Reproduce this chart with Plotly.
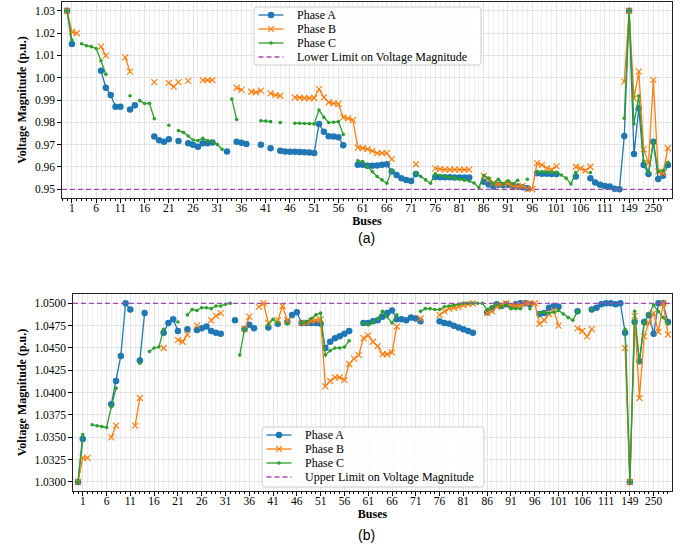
import plotly.graph_objects as go

# ---------------- data ----------------
buses = ["150"] + [str(b) for b in range(1, 115)] + ["135", "149", "151", "152", "160", "197", "250", "300", "450", "451"]
N = len(buses)
x_idx = list(range(N))
tick_pos = list(range(1, N, 5))
tick_txt = [buses[i] for i in tick_pos]

_ = None
# (a) minimum voltages
a_phase_a = [
    1.03, 1.0151, _, _, _, _, _, 1.0031, 0.9955, 0.9922,
    0.987, 0.987, _, 0.9858, 0.9876, _, _, _, 0.9736, 0.972,
    0.9713, 0.9724, _, 0.9716, _, 0.9706, 0.970, 0.9691, 0.9706, 0.9706,
    0.971, _, _, 0.9669, _, 0.9713, 0.9708, 0.9703, _, _,
    0.9699, _, 0.9684, _, 0.9673, 0.9669, 0.9668, 0.9668, 0.9667, 0.9666,
    0.9665, 0.9663, 0.9792, 0.9758, 0.9738, 0.9736, 0.9733, 0.9697, _, _,
    0.961, 0.961, 0.9605, 0.9605, 0.9607, 0.961, 0.9612, 0.958, 0.9564, 0.955,
    0.9542, 0.9537, 0.9568, _, _, _, 0.9555, 0.9554, 0.9554, 0.9554,
    0.9553, 0.9553, 0.9553, 0.9553, _, _, 0.9534, 0.9522, 0.9512, 0.952,
    0.9518, 0.952, 0.9515, 0.9512, 0.9509, 0.9505, _, 0.9572, 0.957, 0.957,
    0.9568, 0.9568, _, _, _, 0.9557, _, _, 0.955, 0.953,
    0.952, 0.9515, 0.9512, 0.9502, 0.950, 0.9739, 1.03, 0.9658, 0.9863, 0.9609,
    0.9569, 0.9713, 0.9546, 0.9561, 0.9609]
a_phase_b = [
    1.03, 1.0205, 1.0199, _, _, _, _, 1.0139, 1.0099, _,
    _, _, 1.0091, 1.0027, _, _, _, _, 0.998, _,
    _, 0.9977, 0.996, 0.998, _, 0.9986, _, _, 0.9989, 0.9989,
    0.9989, _, _, _, _, 0.9955, 0.9945, _, 0.9937, 0.9934,
    0.9942, _, 0.993, 0.9922, 0.9919, _, _, 0.9912, 0.991, 0.9908,
    0.9908, 0.9909, 0.9949, 0.9912, 0.989, 0.9885, 0.9882, 0.9822, 0.9818, 0.981,
    0.9687, 0.9684, 0.968, 0.9672, 0.9662, 0.9662, 0.9662, 0.9635, _, _,
    _, _, 0.9612, _, _, _, 0.9594, 0.959, 0.9588, 0.9588,
    0.9588, 0.9588, 0.9588, 0.9588, _, _, 0.956, 0.9542, 0.9528, 0.9522,
    0.9524, 0.9527, 0.9515, 0.9512, 0.9515, 0.9502, 0.950, 0.9617, 0.9608, 0.9595,
    0.9588, 0.9603, _, _, _, 0.9601, 0.9594, 0.9584, 0.9601, _,
    _, _, _, _, _, 0.9982, 1.03, 0.9907, 1.0027, 0.9679,
    0.9616, 0.999, 0.9579, 0.9572, 0.9684]
a_phase_c = [
    1.03, 1.0169, _, 1.0152, 1.0143, 1.0139, 1.0131, 1.0076, 1.0015, _,
    _, _, _, 0.9919, _, 0.9897, 0.9884, 0.9885, 0.9816, _,
    _, 0.9787, _, 0.9763, 0.9755, 0.9739, 0.9721, 0.9718, 0.9728, 0.9718,
    0.9713, 0.9701, 0.9679, _, 0.9904, 0.9813, _, _, _, _,
    0.9807, 0.9806, 0.9803, _, 0.9799, _, _, 0.9796, 0.9796, 0.9795,
    0.9794, 0.9793, 0.9855, 0.9822, 0.9799, 0.980, 0.9803, 0.9746, _, _,
    0.9628, 0.9624, 0.9601, 0.9579, 0.9557, 0.9542, 0.9527, 0.9584, _, _,
    _, _, 0.9573, 0.9557, 0.9542, 0.9527, 0.9569, 0.9562, 0.9558, 0.9555,
    0.955, 0.9546, 0.9541, 0.9537, 0.9528, 0.9508, 0.9562, 0.955, 0.9525, 0.9545,
    0.9525, 0.9538, 0.9525, 0.954, _, 0.9545, _, 0.9579, 0.9578, 0.9577,
    0.9577, 0.9576, 0.9564, 0.955, 0.9524, 0.9576, _, _, 0.9575, _,
    _, _, _, _, _, 0.9818, 1.03, 0.9793, 0.9918, 0.9627,
    0.9576, 0.9713, 0.9579, 0.9584, 0.9621]

# (b) maximum voltages
b_phase_a = [
    1.03, 1.0348, _, _, _, _, _, 1.0387, 1.0413, 1.0441,
    1.05, 1.0493, _, 1.0436, 1.0489, _, _, _, 1.0467, 1.0478,
    1.0482, 1.0469, _, 1.0471, _, 1.047, 1.0472, 1.0474, 1.0469, 1.0467,
    1.0466, _, _, 1.0481, _, 1.0471, 1.0476, 1.0472, _, _,
    1.0473, _, 1.0477, _, 1.0479, 1.0487, 1.049, 1.0478, 1.0478, 1.0478,
    1.0478, 1.0477, 1.045, 1.0457, 1.0461, 1.0463, 1.0466, 1.0469, _, _,
    1.0478, 1.0478, 1.048, 1.0481, 1.0485, 1.0489, 1.0492, 1.0482, 1.0482, 1.0481,
    1.0484, 1.0483, 1.048, _, _, _, 1.048, 1.0478, 1.0477, 1.0475,
    1.0473, 1.0471, 1.0469, 1.0467, _, _, 1.049, 1.0494, 1.0499, 1.0497,
    1.0499, 1.0497, 1.0499, 1.05, 1.05, 1.0499, _, 1.0488, 1.0489, 1.0495,
    1.0497, 1.0496, _, _, _, 1.0491, _, _, 1.0493, 1.0495,
    1.0499, 1.05, 1.05, 1.0499, 1.05, 1.0467, 1.03, 1.0479, 1.0435, 1.0479,
    1.0487, 1.0466, 1.05, 1.05, 1.0479]
b_phase_b = [
    1.03, 1.0327, 1.0327, _, _, _, _, 1.035, 1.0363, _,
    _, _, 1.0363, 1.0394, _, _, _, _, 1.045, _,
    _, 1.0459, 1.0457, 1.0465, _, 1.0475, _, _, 1.0481, 1.0486,
    1.0489, _, _, _, _, 1.0471, 1.0485, _, 1.0496, 1.05,
    1.0478, _, 1.0481, 1.0497, 1.0481, _, _, 1.0478, 1.0478, 1.048,
    1.0481, 1.0482, 1.0407, 1.0413, 1.0417, 1.0417, 1.0414, 1.0432, 1.0438, 1.0442,
    1.0461, 1.0464, 1.0457, 1.0452, 1.0443, 1.0443, 1.0445, 1.0474, _, _,
    _, _, 1.0483, _, _, _, 1.0487, 1.0491, 1.0494, 1.0495,
    1.0496, 1.0498, 1.0499, 1.05, _, _, 1.0489, 1.0491, 1.0496, 1.0498,
    1.05, 1.0498, 1.0497, 1.0498, 1.05, 1.05, 1.05, 1.0477, 1.0481, 1.0488,
    1.0492, 1.0475, _, _, _, 1.0472, 1.0469, 1.0463, 1.0471, _,
    _, _, _, _, _, 1.045, 1.03, 1.0486, 1.0394, 1.0463,
    1.0478, 1.0489, 1.0468, 1.05, 1.0465]
b_phase_c = [
    1.03, 1.0353, _, 1.0364, 1.0363, 1.0362, 1.0361, 1.0384, 1.0405, _,
    _, _, _, 1.0433, _, 1.0446, 1.045, 1.0451, 1.0471, _,
    _, 1.0479, _, 1.0487, 1.0493, 1.0492, 1.0495, 1.0495, 1.0494, 1.0497,
    1.0497, 1.0499, 1.05, _, 1.0442, 1.0471, _, _, _, _,
    1.0476, 1.0482, 1.0478, _, 1.0477, _, _, 1.0478, 1.0479, 1.0483,
    1.0487, 1.0489, 1.0442, 1.0447, 1.045, 1.045, 1.0451, 1.0458, _, _,
    1.0478, 1.0476, 1.0479, 1.0483, 1.0491, 1.0485, 1.0478, 1.0487, _, _,
    _, _, 1.0491, 1.0494, 1.0494, 1.0493, 1.0493, 1.0496, 1.0497, 1.0498,
    1.0499, 1.05, 1.05, 1.05, 1.05, 1.05, 1.0493, 1.0496, 1.05, 1.0496,
    1.0499, 1.0494, 1.0494, 1.0494, _, 1.0494, _, 1.0489, 1.049, 1.0489,
    1.049, 1.0492, 1.0488, 1.0484, 1.0481, 1.0491, _, _, 1.0493, _,
    _, _, _, _, _, 1.0471, 1.03, 1.0491, 1.0434, 1.0478,
    1.0488, 1.0498, 1.0491, 1.0484, 1.0477]

lower_limit = 0.95
upper_limit = 1.05
a_yticks = [0.95, 0.96, 0.97, 0.98, 0.99, 1.00, 1.01, 1.02, 1.03]
b_yticks = [1.03, 1.0325, 1.035, 1.0375, 1.04, 1.0425, 1.045, 1.0475, 1.05]
phase_names = ["Phase A", "Phase B", "Phase C"]
a_limit_name = "Lower Limit on Voltage Magnitude"
b_limit_name = "Upper Limit on Voltage Magnitude"

# ---------------- style / layout ----------------
W, H = 694, 558
C_A, C_B, C_C = "#1f77b4", "#ff7f0e", "#2ca02c"
C_LIM = "#a04cae"
LIM_DASH = "5px,3px"
SERIF = "Liberation Serif, Tinos, Times New Roman, serif"
XR = [-1.05, 124.85]


def px_x(p):
    return p / W


def px_y(p):
    return 1 - p / H


fig = go.Figure()


def add_phase_traces(xa, ya, va, vb, vc, lim, limname):
    fig.add_trace(go.Scatter(x=x_idx, y=va, name=phase_names[0], mode="lines+markers",
                             xaxis=xa, yaxis=ya, showlegend=False,
                             line=dict(color=C_A, width=1.3),
                             marker=dict(symbol="circle", size=6.5, color=C_A)))
    fig.add_trace(go.Scatter(x=x_idx, y=vb, name=phase_names[1], mode="lines+markers",
                             xaxis=xa, yaxis=ya, showlegend=False,
                             line=dict(color=C_B, width=1.3),
                             marker=dict(symbol="x-thin", size=6, color=C_B,
                                         line=dict(color=C_B, width=1.2))))
    fig.add_trace(go.Scatter(x=x_idx, y=vc, name=phase_names[2], mode="lines+markers",
                             xaxis=xa, yaxis=ya, showlegend=False,
                             line=dict(color=C_C, width=1.3),
                             marker=dict(symbol="circle", size=3.6, color=C_C)))
    fig.add_trace(go.Scatter(x=XR, y=[lim, lim], name=limname, mode="lines",
                             xaxis=xa, yaxis=ya, showlegend=False,
                             line=dict(color=C_LIM, width=1.3, dash=LIM_DASH)))


add_phase_traces("x", "y", a_phase_a, a_phase_b, a_phase_c, lower_limit, a_limit_name)
add_phase_traces("x2", "y2", b_phase_a, b_phase_b, b_phase_c, upper_limit, b_limit_name)

tickfont = dict(family=SERIF, size=11.5, color="black")
titlefont = dict(family=SERIF, size=12, color="black", weight="bold")


def xaxis_cfg(dom, anchor):
    return dict(domain=dom, anchor=anchor, range=XR, tickmode="array",
                tickvals=tick_pos, ticktext=tick_txt, tickfont=tickfont,
                ticks="outside", ticklen=3.5, tickwidth=0.8, tickcolor="black",
                ticklabelstandoff=-4,
                showline=True, mirror=True, linecolor="#222", linewidth=1.2,
                showgrid=True, gridcolor="#e3e3e3", gridwidth=0.8, zeroline=False,
                minor=dict(tickmode="linear", tick0=0, dtick=1, ticks="outside",
                           ticklen=2, tickwidth=0.6, tickcolor="black",
                           showgrid=True, gridcolor="#efefef", gridwidth=0.6),
                title=dict(text="Buses", font=titlefont, standoff=0))


def yaxis_cfg(dom, anchor, rng, vals, fmt):
    return dict(domain=dom, anchor=anchor, range=rng, tickmode="array",
                tickvals=vals, ticktext=[fmt.format(v) for v in vals], tickfont=tickfont,
                ticks="outside", ticklen=3.5, tickwidth=0.8, tickcolor="black",
                showline=True, mirror=True, linecolor="#222", linewidth=1.2,
                showgrid=True, gridcolor="#e3e3e3", gridwidth=0.8, zeroline=False,
                title=dict(text="Voltage Magnitude (p.u.)", font=titlefont, standoff=5))


# ---------------- hand-drawn legends (matplotlib-like compact rows) ----------------
shapes = []
annotations = []


def legend_box(left, top, width, height, labels):
    r = 3.0
    x0, x1 = left, left + width
    y0, y1 = top, top + height
    X = px_x
    Y = px_y
    path = (f"M {X(x0 + r)},{Y(y0)} L {X(x1 - r)},{Y(y0)} Q {X(x1)},{Y(y0)} {X(x1)},{Y(y0 + r)} "
            f"L {X(x1)},{Y(y1 - r)} Q {X(x1)},{Y(y1)} {X(x1 - r)},{Y(y1)} "
            f"L {X(x0 + r)},{Y(y1)} Q {X(x0)},{Y(y1)} {X(x0)},{Y(y1 - r)} "
            f"L {X(x0)},{Y(y0 + r)} Q {X(x0)},{Y(y0)} {X(x0 + r)},{Y(y0)} Z")
    shapes.append(dict(type="path", path=path, xref="paper", yref="paper",
                       fillcolor="rgba(255,255,255,0.85)", line=dict(color="#cccccc", width=1)))
    colors = [C_A, C_B, C_C, C_LIM]
    row0 = top + 8.0
    for k, lab in enumerate(labels):
        yc = row0 + 14.0 * k
        sx0, sx1 = left + 4.5, left + 29.5
        cx = (sx0 + sx1) / 2
        dash = LIM_DASH if k == 3 else "solid"
        shapes.append(dict(type="line", xref="paper", yref="paper",
                           x0=X(sx0), x1=X(sx1), y0=Y(yc), y1=Y(yc),
                           line=dict(color=colors[k], width=1.3, dash=dash)))
        if k in (0, 2):
            d = 6.5 if k == 0 else 3.6
            shapes.append(dict(type="circle", xref="paper", yref="paper",
                               x0=X(cx - d / 2), x1=X(cx + d / 2),
                               y0=Y(yc - d / 2), y1=Y(yc + d / 2),
                               fillcolor=colors[k], line=dict(width=0)))
        elif k == 1:
            h = 2.8
            for sgn in (1, -1):
                shapes.append(dict(type="line", xref="paper", yref="paper",
                                   x0=X(cx - h), x1=X(cx + h),
                                   y0=Y(yc - sgn * h), y1=Y(yc + sgn * h),
                                   line=dict(color=colors[k], width=1.2)))
        annotations.append(dict(text=lab, x=X(left + 41), y=Y(yc), xref="paper", yref="paper",
                                xanchor="left", yanchor="middle", showarrow=False,
                                font=dict(family=SERIF, size=12, color="black")))


legend_box(254, 7, 227, 58, phase_names + [a_limit_name])
legend_box(262, 427, 222, 60, phase_names + [b_limit_name])

annotations += [
    dict(text="(a)", x=px_x(367), y=px_y(238), xref="paper", yref="paper",
         showarrow=False, font=dict(family="Liberation Sans, Arial, sans-serif", size=14, color="black")),
    dict(text="(b)", x=px_x(367), y=px_y(545), xref="paper", yref="paper",
         showarrow=False, font=dict(family="Liberation Sans, Arial, sans-serif", size=14, color="black")),
]

fig.update_layout(
    width=W, height=H, margin=dict(l=0, r=0, t=0, b=0),
    paper_bgcolor="white", plot_bgcolor="white",
    xaxis=xaxis_cfg([px_x(62), px_x(672)], "y"),
    yaxis=yaxis_cfg([px_y(198), px_y(2)], "x", [0.9461, 1.0339], a_yticks, "{:.2f}"),
    xaxis2=xaxis_cfg([px_x(73), px_x(672)], "y2"),
    yaxis2=yaxis_cfg([px_y(491), px_y(294)], "x2", [1.02899, 1.05104], b_yticks, "{:.4f}"),
    showlegend=False,
    shapes=shapes,
    annotations=annotations,
)

# remove the default 8px page margin so the figure sits at the window's corner
fig.write_html("out.html", config={"displayModeBar": False},
               post_script="document.body.style.margin='0px';")
